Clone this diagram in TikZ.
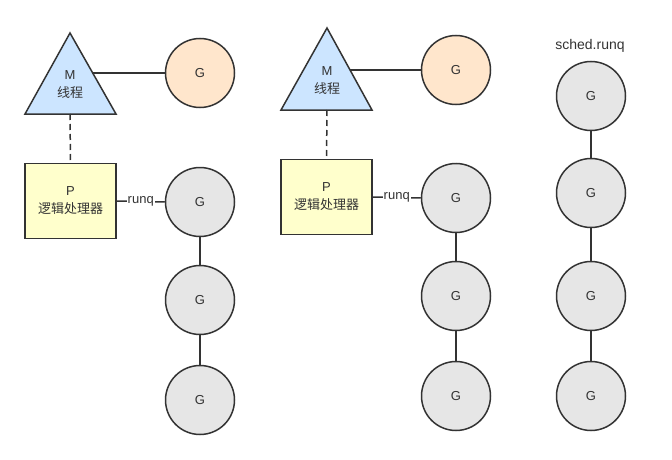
\documentclass[tikz,border=0pt]{standalone}
\usepackage{fontspec}
\setmainfont{Liberation Sans}
\newfontfamily\zh{Noto Sans CJK SC}
\definecolor{ink}{HTML}{333333}
\definecolor{gfill}{HTML}{E6E6E6}
\definecolor{gofill}{HTML}{FFE6CC}
\definecolor{mfill}{HTML}{CCE5FF}
\definecolor{pfill}{HTML}{FFFFCC}
\tikzset{px/.style={x=1pt,y=-1pt,line width=1.5pt,font=\fontsize{13}{18}\selectfont,text=ink},
  gnode/.style={circle,draw=ink,fill=gfill,minimum size=69pt,inner sep=0pt},
  grun/.style={gnode,fill=gofill},
  pbox/.style={draw=ink,fill=pfill,minimum width=91pt,minimum height=75pt,align=center,inner sep=0pt},
  mtri/.style={draw=ink,fill=mfill},
  link/.style={draw=ink},
  qlab/.style={fill=white,inner sep=1pt}}

\begin{document}
\begin{tikzpicture}[px]
  \useasboundingbox (0,0) rectangle (672,460);
  % first M/P pair
  \draw[mtri] (70,33) -- (25,114) -- (116,114) -- cycle;
  \node[align=center] (m1) at (70,85) {M\\{\zh 线程}};
  \coordinate (m1r) at (92,73); \coordinate (m1b) at (70,114);
  \node[grun] (go1) at (200,73) {G};
  \node[pbox] (p1) at (70.5,201) {P\\{\zh 逻辑处理器}};
  \node[gnode] (g1) at (200,202) {G};
  \node[gnode] (g2) at (200,300) {G};
  \node[gnode] (g3) at (200,400) {G};
  \draw[link] (m1r) -- (go1.west);
  \draw[link,dashed,dash pattern=on 6pt off 4pt] (m1b) -- (p1.north);
  \draw[link] (p1.east) -- node[qlab]{runq} (g1.west);
  \draw[link] (g1) -- (g2); \draw[link] (g2) -- (g3);
  % second M/P pair
  \draw[mtri] (327,28) -- (281,110) -- (372,110) -- cycle;
  \node[align=center] (m2) at (327,81) {M\\{\zh 线程}};
  \coordinate (m2r) at (350,70); \coordinate (m2b) at (327,110);
  \node[grun] (go2) at (456,70) {G};
  \node[pbox] (p2) at (326.5,197) {P\\{\zh 逻辑处理器}};
  \node[gnode] (g4) at (456,198) {G};
  \node[gnode] (g5) at (456,296) {G};
  \node[gnode] (g6) at (456,396) {G};
  \draw[link] (m2r) -- (go2.west);
  \draw[link,dashed,dash pattern=on 6pt off 4pt] (m2b) -- (p2.north);
  \draw[link] (p2.east) -- node[qlab]{runq} (g4.west);
  \draw[link] (g4) -- (g5); \draw[link] (g5) -- (g6);
  % global queue
  \node[font=\fontsize{14}{16}\selectfont] (gq) at (590,46) {sched.runq};
  \node[gnode] (g7) at (591,96) {G};
  \node[gnode] (g8) at (591,193) {G};
  \node[gnode] (g9) at (591,296) {G};
  \node[gnode] (g10) at (591,396) {G};
  \draw[link] (g7) -- (g8); \draw[link] (g8) -- (g9); \draw[link] (g9) -- (g10);
\end{tikzpicture}
\end{document}
